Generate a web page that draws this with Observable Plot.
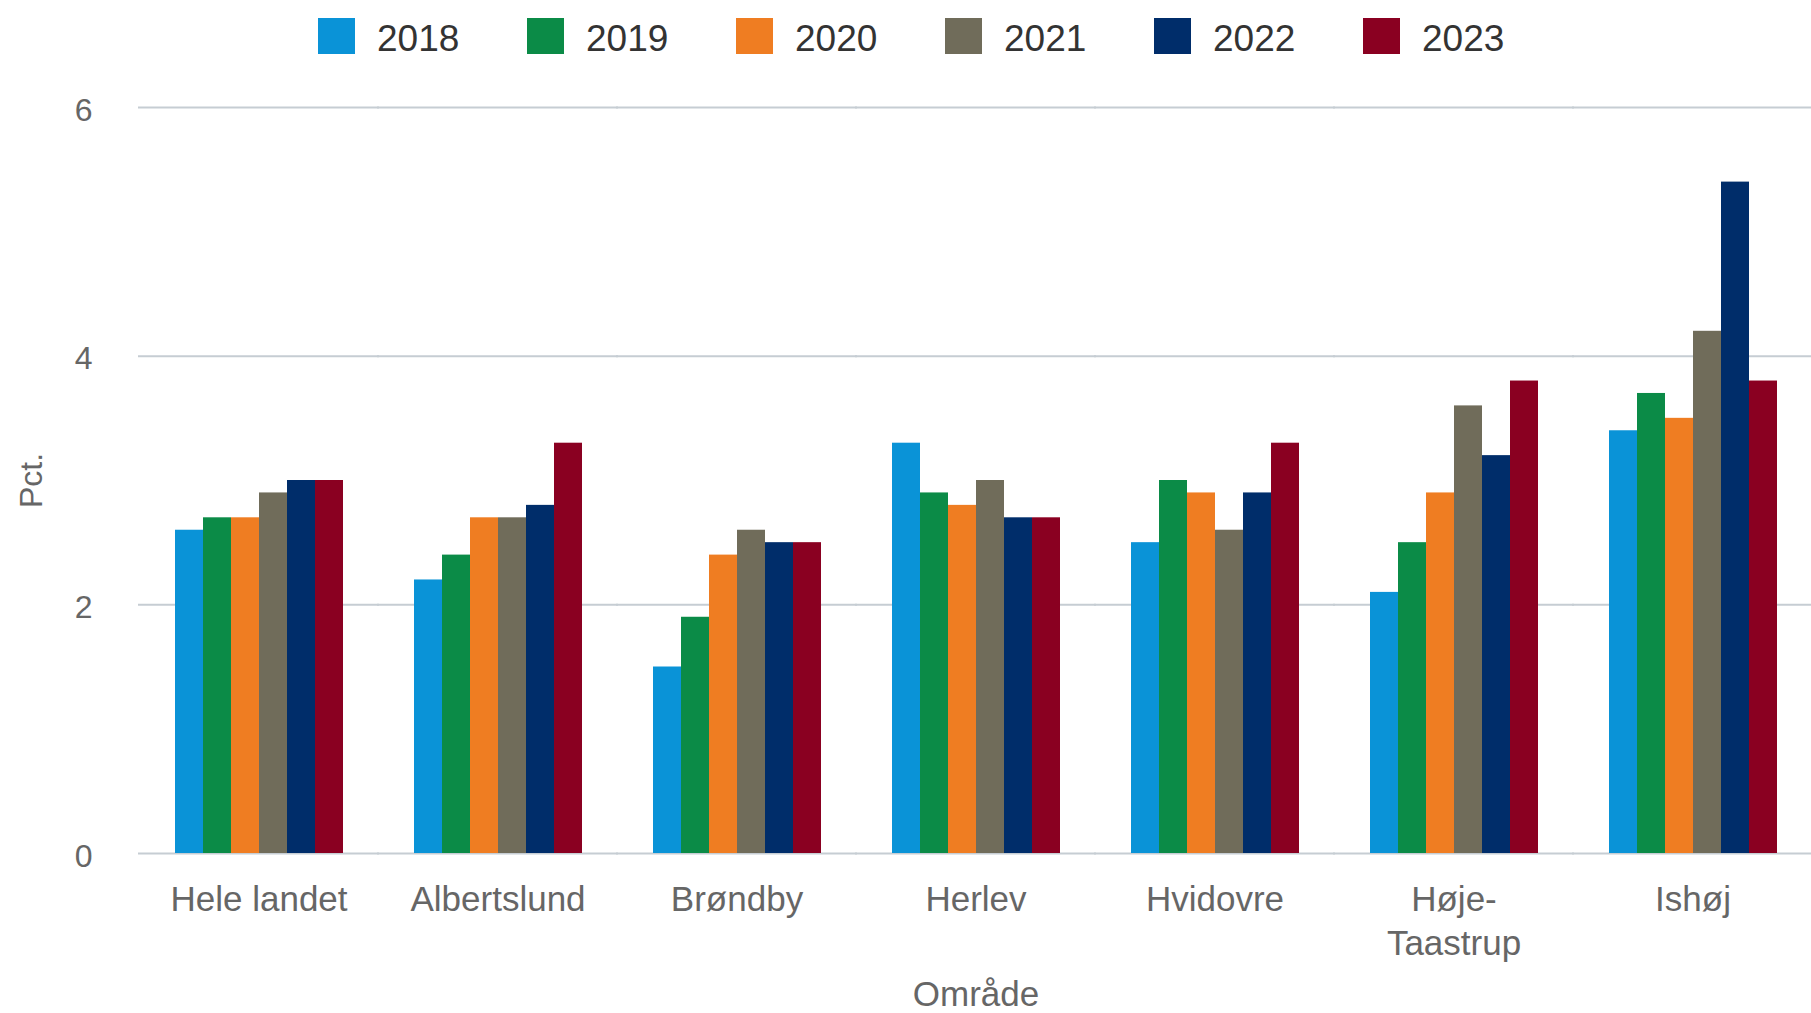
<!DOCTYPE html>
<html><head><meta charset="utf-8">
<script src="https://cdn.jsdelivr.net/npm/d3@7"></script>
<script src="https://cdn.jsdelivr.net/npm/@observablehq/plot@0.6"></script>
<style>
html,body{margin:0;padding:0;background:#fff;}
body{width:1811px;height:1013px;overflow:hidden;font-family:Arial,"Liberation Sans",sans-serif;}
#legend{height:66px;padding-left:318px;padding-top:5px;box-sizing:border-box;display:flex;align-items:center;}
.item{width:209px;display:flex;align-items:center;flex:none;}
.sw{width:37px;height:36px;margin-right:22px;flex:none;}
.lab{font-size:37px;color:#333;line-height:1;position:relative;top:3px;}
#chart svg{display:block;}
</style></head><body>
<div id="legend"></div><div id="chart"></div>
<script>
const areas = ["Hele landet","Albertslund","Brøndby","Herlev","Hvidovre","Høje-Taastrup","Ishøj"];
const years = ["2018","2019","2020","2021","2022","2023"];
const colors = ["#0a93d7","#0b8b47","#ef7d22","#706c5a","#002d6a","#8a0021"];
const v2018 = [2.6, 2.2, 1.5, 3.3, 2.5, 2.1, 3.4];
const v2019 = [2.7, 2.4, 1.9, 2.9, 3.0, 2.5, 3.7];
const v2020 = [2.7, 2.7, 2.4, 2.8, 2.9, 2.9, 3.5];
const v2021 = [2.9, 2.7, 2.6, 3.0, 2.6, 3.6, 4.2];
const v2022 = [3.0, 2.8, 2.5, 2.7, 2.9, 3.2, 5.4];
const v2023 = [3.0, 3.3, 2.5, 2.7, 3.3, 3.8, 3.8];
const yTicks = [0, 2, 4, 6];
const yLabel = "Pct.";
const xLabel = "Område";

const series = [v2018, v2019, v2020, v2021, v2022, v2023];
const data = [];
areas.forEach((a, i) => years.forEach((y, j) => data.push({area: a, year: y, value: series[j][i]})));

const legend = document.getElementById("legend");
years.forEach((y, j) => {
  const it = document.createElement("div"); it.className = "item";
  const sw = document.createElement("div"); sw.className = "sw"; sw.style.background = colors[j];
  const lb = document.createElement("span"); lb.className = "lab"; lb.textContent = y;
  it.appendChild(sw); it.appendChild(lb); legend.appendChild(it);
});

const gap = 36; // about half the gap between area groups, so grid lines run continuously
const plot = Plot.plot({
  width: 1811, height: 947,
  marginTop: 41, marginBottom: 160, marginLeft: 139, marginRight: 0,
  style: {fontFamily: 'Arial, "Liberation Sans", sans-serif', background: "#fff", color: "#666"},
  fx: {domain: areas, paddingInner: 0.294, paddingOuter: 0.138},
  x: {domain: years, padding: 0, axis: null},
  y: {domain: [0, 6]},
  color: {domain: years, range: colors},
  marks: [
    Plot.ruleY(yTicks, {facet: null, stroke: "#c6cdd3", strokeWidth: 2, insetLeft: -gap, insetRight: -gap}),
    Plot.barY(data, {fx: "area", x: "year", y: "value", fill: "year"}),
    Plot.axisY({ticks: yTicks, tickFormat: d => String(d), tickSize: 0, tickPadding: 82, fontSize: 32, fill: "#666",
      label: yLabel, labelArrow: "none", labelAnchor: "center", labelOffset: 155, dy: 3}),
    Plot.axisFx({anchor: "bottom", tickSize: 0, tickPadding: 26, fontSize: 35, fill: "#666", lineHeight: 1.26,
      tickFormat: d => d.replace("-", "-\n"), label: xLabel, labelArrow: "none", labelAnchor: "center", labelOffset: 152})
  ]
});
document.getElementById("chart").appendChild(plot);
</script>
</body></html>
